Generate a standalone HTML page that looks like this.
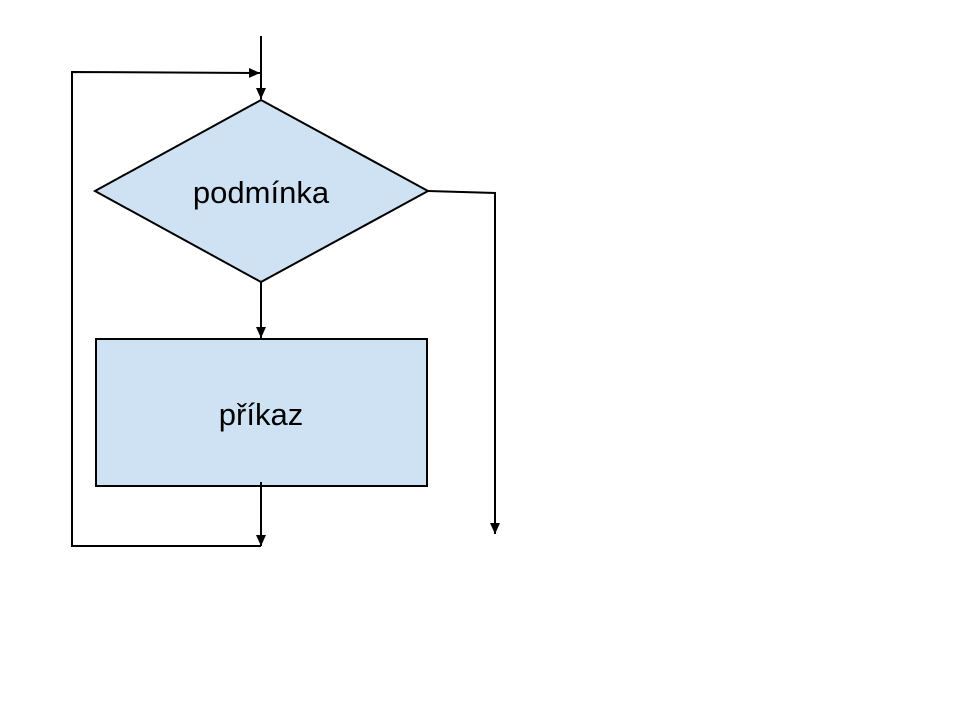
<!DOCTYPE html>
<html><head><meta charset="utf-8"><style>body{margin:0;background:#fff}</style></head>
<body>
<svg width="960" height="720" xmlns="http://www.w3.org/2000/svg">
<defs><marker id="a" markerWidth="12" markerHeight="12" refX="11" refY="5" orient="auto" markerUnits="userSpaceOnUse"><path d="M0,0 L11,5 L0,10 z" fill="#000"/></marker></defs>
<g stroke="#000" stroke-width="2" fill="none">
<line x1="261" y1="36" x2="261" y2="99" marker-end="url(#a)"/>
<polyline points="261,546 72,546 72,72 260,73" marker-end="url(#a)"/>
<polygon points="261,100 428,191 261,282 95,191" fill="#cfe2f3"/>
<polyline points="428,191 495,193 495,534" marker-end="url(#a)"/>
<line x1="261" y1="282" x2="261" y2="338" marker-end="url(#a)"/>
<rect x="96" y="339" width="331" height="147" fill="#cfe2f3"/>
<line x1="261" y1="482" x2="261" y2="546" marker-end="url(#a)"/>
</g>
<g font-family="Liberation Sans, sans-serif" font-size="31" text-anchor="middle" fill="#000">
<text x="261" y="203">podmínka</text>
<text x="261" y="425">příkaz</text>
</g>
</svg>
</body></html>
